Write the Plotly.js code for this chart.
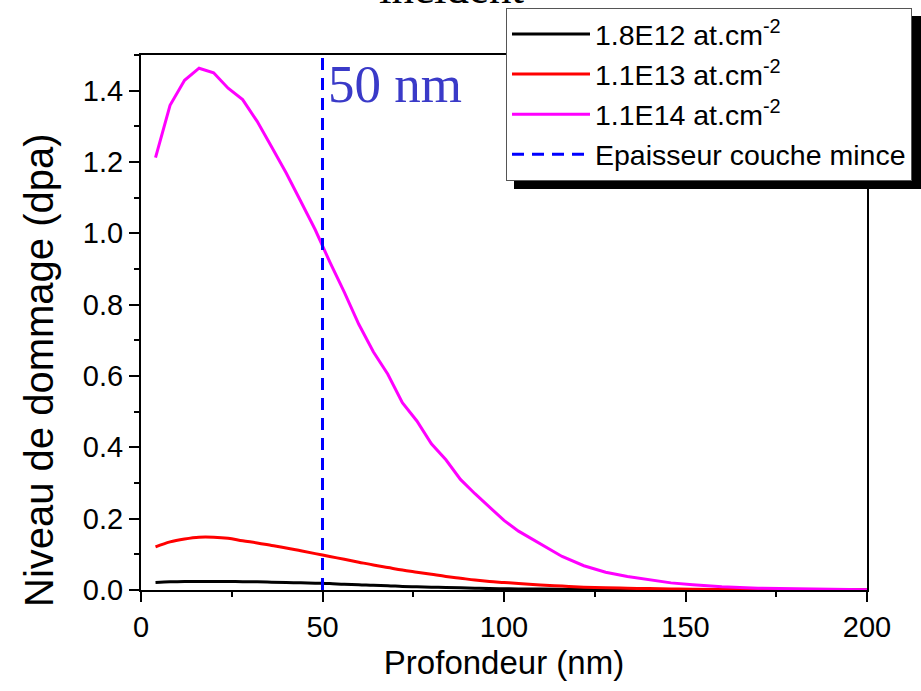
<!DOCTYPE html>
<html>
<head>
<meta charset="utf-8">
<script src="https://cdn.plot.ly/plotly-3.0.1.min.js"></script>
<style>html,body{margin:0;padding:0;background:#fff;}#chart{width:921px;height:691px;}</style>
</head>
<body>
<div id="chart"></div>
<script>
const depth = [4,8,12,16,20,24,28,32,36,40,44,48,52,56,60,64,68,72,76,80,84,88,92,96,100,104,110,116,122,128,134,140,146,152,160,170,180,190,200];
const dpa_18E12 = [0.021,0.023,0.024,0.024,0.024,0.024,0.023,0.023,0.022,0.021,0.020,0.019,0.018,0.016,0.015,0.013,0.012,0.010,0.009,0.008,0.007,0.006,0.005,0.004,0.0035,0.003,0.0025,0.002,0.0015,0.0012,0.001,0.0008,0.0006,0.0005,0.0004,0.0003,0.0002,0.0001,0.0001];
const dpa_11E13 = [0.121,0.135,0.143,0.148,0.148,0.145,0.138,0.132,0.125,0.118,0.110,0.102,0.094,0.086,0.078,0.070,0.063,0.056,0.050,0.044,0.038,0.033,0.028,0.024,0.021,0.018,0.014,0.011,0.008,0.006,0.005,0.004,0.003,0.002,0.0015,0.001,0.0006,0.0004,0.0003];
const dpa_11E14 = [1.212,1.359,1.429,1.463,1.450,1.407,1.375,1.314,1.242,1.169,1.09,1.01,0.92,0.835,0.745,0.668,0.605,0.525,0.474,0.41,0.365,0.31,0.27,0.233,0.195,0.165,0.13,0.094,0.068,0.05,0.038,0.028,0.02,0.015,0.009,0.005,0.003,0.002,0.001];
const thicknessX = [50,50];
const thicknessY = [0,1.5];
const seriesNames = ['1.8E12 at.cm<sup>-2</sup>','1.1E13 at.cm<sup>-2</sup>','1.1E14 at.cm<sup>-2</sup>','Epaisseur couche mince'];
const xTicks = [0,50,100,150,200];
const yTicks = [0.0,0.2,0.4,0.6,0.8,1.0,1.2,1.4];
const yTickText = ['0.0','0.2','0.4','0.6','0.8','1.0','1.2','1.4'];
const yTitle = 'Niveau de dommage (dpa)';

const traces = [
  {x: depth, y: dpa_18E12, name: seriesNames[0], mode: 'lines', line: {color: '#000000', width: 3, shape: 'spline'}},
  {x: depth, y: dpa_11E13, name: seriesNames[1], mode: 'lines', line: {color: '#ff0000', width: 3, shape: 'spline'}},
  {x: depth, y: dpa_11E14, name: seriesNames[2], mode: 'lines', line: {color: '#ff00ff', width: 3}},
  {x: thicknessX, y: thicknessY, name: seriesNames[3], mode: 'lines', line: {color: '#0000ff', width: 3, dash: '12px,8px'}}
];

const layout = {
  width: 921, height: 691,
  margin: {l: 141, r: 54, t: 55, b: 101, autoexpand: false},
  paper_bgcolor: '#ffffff', plot_bgcolor: '#ffffff',
  font: {family: 'Liberation Sans, Arial, sans-serif', color: '#000000', size: 28},
  showlegend: true,
  legend: {
    x: (506-141)/726, y: (590-8)/535, xanchor: 'left', yanchor: 'top',
    bgcolor: '#ffffff', bordercolor: '#555555', borderwidth: 1,
    font: {family: 'Liberation Sans, Arial, sans-serif', size: 28.5, color: '#000000'},
    itemwidth: 78, tracegroupgap: 0
  },
  xaxis: {
    range: [0, 200], tickvals: xTicks, ticktext: xTicks.map(String),
    ticks: 'outside', ticklen: 10, tickwidth: 2, tickcolor: '#000',
    minor: {dtick: 25, ticks: 'outside', ticklen: 5, tickwidth: 2, tickcolor: '#000', showgrid: false},
    showline: true, linewidth: 2, linecolor: '#000', mirror: true,
    showgrid: false, zeroline: false,
    tickfont: {size: 29},
    title: {text: 'Profondeur (nm)', font: {size: 33}, standoff: 9}
  },
  yaxis: {
    range: [0, 1.5], tickvals: yTicks, ticktext: yTickText,
    ticks: 'outside', ticklen: 10, tickwidth: 2, tickcolor: '#000',
    minor: {dtick: 0.1, ticks: 'outside', ticklen: 5, tickwidth: 2, tickcolor: '#000', showgrid: false},
    showline: true, linewidth: 2, linecolor: '#000', mirror: true,
    showgrid: false, zeroline: false,
    tickfont: {size: 29}
  },
  shapes: [
    {type: 'rect', xref: 'paper', yref: 'paper', layer: 'above',
     x0: (514-141)/726, x1: (930-141)/726, y0: (590-189)/535, y1: (590-16)/535,
     fillcolor: '#000000', line: {width: 0}}
  ],
  annotations: [
    {text: yTitle, xref: 'paper', yref: 'paper', x: (39-141)/726, y: (590-370)/535, xanchor: 'center', yanchor: 'middle',
     textangle: -90, showarrow: false, font: {family: 'Liberation Sans, Arial, sans-serif', size: 40, color: '#000000'}},
    {text: '50 nm', xref: 'x', yref: 'y', x: 51, y: 1.42, xanchor: 'left', yanchor: 'middle', showarrow: false,
     font: {family: 'Liberation Serif, Times New Roman, serif', size: 53, color: '#3a3ac8'}},
    {text: 'incident', xref: 'paper', yref: 'paper', x: 0.428, y: (590+12)/535, xanchor: 'center', yanchor: 'middle', showarrow: false,
     font: {family: 'Liberation Serif, Times New Roman, serif', size: 45, color: '#000000'}}
  ]
};

Plotly.newPlot('chart', traces, layout, {displayModeBar: false, staticPlot: true});
</script>
</body>
</html>
